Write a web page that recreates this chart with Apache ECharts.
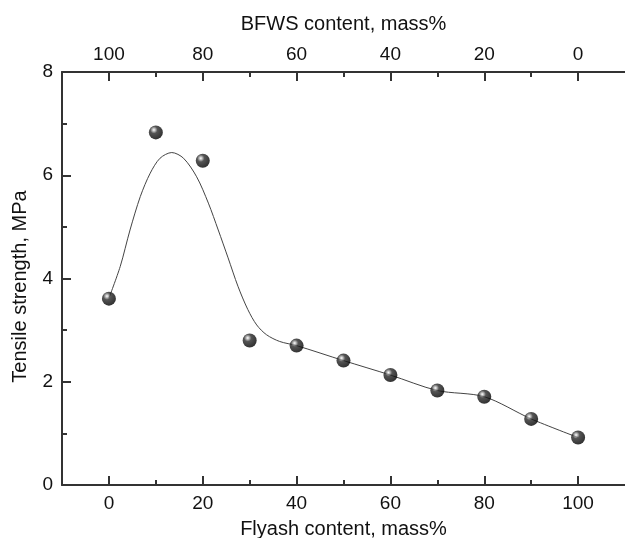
<!DOCTYPE html>
<html>
<head>
<meta charset="utf-8">
<script src="https://cdn.jsdelivr.net/npm/echarts@6/dist/echarts.min.js"></script>
<style>
  html, body { margin: 0; padding: 0; background: #fff; }
  #chart { width: 625px; height: 538px; }
</style>
</head>
<body>
<div id="chart"></div>
<script>
// measured points (flyash %, tensile strength MPa)
var flyash = [0, 10, 20, 30, 40, 50, 60, 70, 80, 90, 100];
var strength = [3.61, 6.83, 6.28, 2.80, 2.70, 2.41, 2.13, 1.83, 1.71, 1.28, 0.92];

// fitted curve
var curveX = [0, 2.4, 4.5, 6.7, 8.8, 10.9, 13.4, 15.9, 18.7, 21.2, 23.3, 25.4, 27.5, 29.6, 31.5, 33.6, 36.4, 40, 50, 60, 70, 80, 90, 100];
var curveY = [3.62, 4.23, 4.94, 5.59, 6.04, 6.33, 6.44, 6.33, 5.97, 5.46, 4.94, 4.40, 3.85, 3.40, 3.10, 2.91, 2.78, 2.70, 2.41, 2.13, 1.83, 1.71, 1.28, 0.92];

var majorTicks = [0, 20, 40, 60, 80, 100];
var minorTicks = [10, 30, 50, 70, 90];

var FONT = '"Liberation Sans", Arial, sans-serif';
var AXIS_COLOR = '#333';

function pairs(xs, ys) {
  var out = [];
  for (var i = 0; i < xs.length; i++) out.push([xs[i], ys[i]]);
  return out;
}

function xAxisDef(pos, opts) {
  var a = {
    type: 'value',
    position: pos,
    min: -10,
    max: 110,
    inverse: pos === 'top',
    splitLine: { show: false },
    axisLine: { show: true, onZero: false, lineStyle: { color: AXIS_COLOR, width: 2 } },
    axisTick: { show: true, inside: true, length: 9, customValues: majorTicks, lineStyle: { color: AXIS_COLOR, width: 2 } },
    axisLabel: { show: true, customValues: majorTicks, color: '#111', fontSize: 19, fontFamily: FONT, margin: pos === 'top' ? 8 : 9 }
  };
  return Object.assign(a, opts || {});
}

function minorAxisDef(pos) {
  return {
    type: 'value',
    position: pos,
    min: -10,
    max: 110,
    inverse: pos === 'top',
    splitLine: { show: false },
    axisLine: { show: false, onZero: false },
    axisTick: { show: true, inside: true, length: 5, customValues: minorTicks, lineStyle: { color: AXIS_COLOR, width: 2 } },
    axisLabel: { show: false }
  };
}

var chart = echarts.init(document.getElementById('chart'));
var option = {
  backgroundColor: '#fff',
  animation: false,
  grid: { left: 62, top: 72, right: 0, bottom: 53, containLabel: false, outerBoundsMode: 'none' },
  xAxis: [
    xAxisDef('bottom', {
      name: 'Flyash content, mass%',
      nameLocation: 'middle',
      nameGap: 34,
      nameTextStyle: { color: '#111', fontSize: 20, fontFamily: FONT }
    }),
    minorAxisDef('bottom'),
    xAxisDef('top', {
      name: 'BFWS content, mass%',
      nameLocation: 'middle',
      nameGap: 38,
      nameTextStyle: { color: '#111', fontSize: 20, fontFamily: FONT }
    }),
    minorAxisDef('top')
  ],
  yAxis: [{
    type: 'value',
    min: 0,
    max: 8,
    interval: 2,
    name: 'Tensile strength, MPa',
    nameLocation: 'middle',
    nameGap: 32,
    // nudge the title a little below the axis middle, like the original
    nameTextStyle: { color: '#111', fontSize: 20, fontFamily: FONT, padding: [0, 16, 0, 0] },
    splitLine: { show: false },
    axisLine: { show: true, onZero: false, lineStyle: { color: AXIS_COLOR, width: 2 } },
    axisTick: { show: true, inside: true, length: 9, lineStyle: { color: AXIS_COLOR, width: 2 } },
    minorTick: { show: true, splitNumber: 2, length: 5, lineStyle: { color: AXIS_COLOR, width: 2 } },
    axisLabel: { color: '#111', fontSize: 19, fontFamily: FONT, margin: 9 }
  }],
  series: [
    {
      type: 'line',
      xAxisIndex: 0,
      yAxisIndex: 0,
      data: pairs(curveX, curveY),
      smooth: 0.3,
      showSymbol: false,
      symbol: 'none',
      lineStyle: { color: '#444', width: 1 },
      z: 2
    },
    {
      type: 'scatter',
      xAxisIndex: 0,
      yAxisIndex: 0,
      data: pairs(flyash, strength),
      symbol: 'circle',
      symbolSize: 14,
      itemStyle: {
        color: {
          type: 'radial', x: 0.36, y: 0.32, r: 0.68,
          colorStops: [
            { offset: 0, color: '#ffffff' },
            { offset: 0.15, color: '#b0b0b0' },
            { offset: 0.38, color: '#2a2a2a' },
            { offset: 1, color: '#000000' }
          ]
        }
      },
      z: 3
    }
  ]
};
chart.setOption(option);
</script>
</body>
</html>
